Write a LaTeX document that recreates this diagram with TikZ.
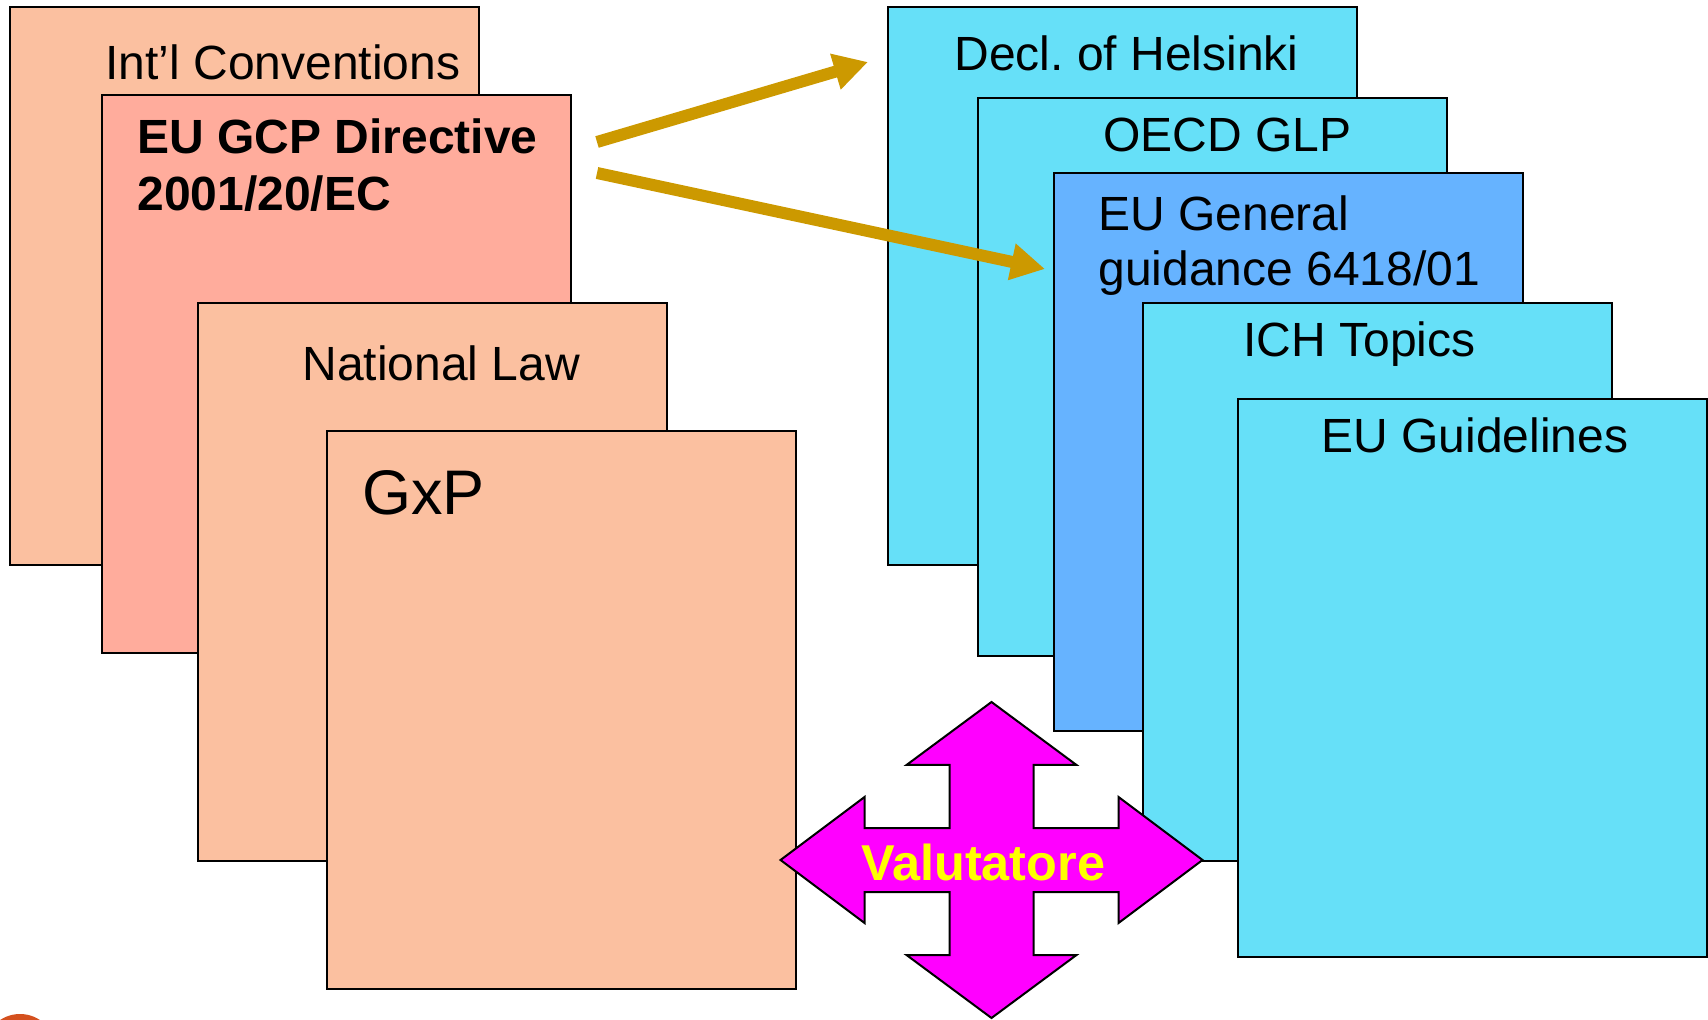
\documentclass[tikz,border=0pt]{standalone}
\usepackage{fontspec}
\setmainfont{Liberation Sans}
\usetikzlibrary{arrows.meta}
\frenchspacing
\definecolor{peach}{HTML}{FBC0A0}
\definecolor{salmonbox}{HTML}{FFAC9C}
\definecolor{cyanbox}{HTML}{66E0F8}
\definecolor{bluebox}{HTML}{66B3FF}
\definecolor{gold}{HTML}{CC9900}
\definecolor{dotorange}{HTML}{D4501E}
\definecolor{crossmag}{HTML}{FF00FF}
\definecolor{textyellow}{HTML}{FFFF00}
\tikzset{
  sheet/.style={draw=black, line width=1pt, rectangle, inner sep=0pt, anchor=north west,
    minimum width=234.5pt, minimum height=279pt},
  lbl/.style={anchor=base west, inner sep=0pt, font=\fontsize{24}{28}\selectfont},
  boldlbl/.style={lbl, font=\fontsize{24}{28}\selectfont\bfseries},
  goldarrow/.style={draw=gold, line width=6pt, -{Triangle[length=17pt,width=17.5pt]}},
}
\begin{document}
\begin{tikzpicture}[x=0.5pt,y=-0.5pt]
\useasboundingbox (0,0) rectangle (1708,1020);
\begin{scope}
\clip (0,0) rectangle (1708,1020);
\fill[dotorange] (20,1050) circle[radius=18pt];
\end{scope}
% left stack
\node[sheet, fill=peach] (b1) at (9,6) {};
\node[lbl] (t1) at (105,80) {Int’l Conventions};
\node[sheet, fill=salmonbox] (b2) at (101,94) {};
\node[boldlbl] (t2a) at (137,154) {EU GCP Directive};
\node[boldlbl] (t2b) at (137,211) {2001/20/EC};
\node[sheet, fill=peach] (b3) at (197,302) {};
\node[lbl] (t3) at (302,381) {National Law};
\node[sheet, fill=peach] (b4) at (326,430) {};
\node[lbl, font=\fontsize{31.5}{36}\selectfont] (t4) at (362,515) {GxP};
% right stack
\node[sheet, fill=cyanbox] (r1) at (887,6) {};
\node[lbl] (u1) at (954,71) {Decl.\ of Helsinki};
\node[sheet, fill=cyanbox] (r2) at (977,97) {};
\node[lbl] (u2) at (1103,152) {OECD GLP};
\node[sheet, fill=bluebox] (r3) at (1053,172) {};
\node[lbl] (u3a) at (1098,231) {EU General};
\node[lbl] (u3b) at (1098,286) {guidance 6418/01};
\node[sheet, fill=cyanbox] (r4) at (1142,302) {};
\node[lbl] (u4) at (1243,357) {ICH Topics};
\node[sheet, fill=cyanbox] (r5) at (1237,398) {};
\node[lbl] (u5) at (1321,453) {EU Guidelines};
% arrows
\coordinate (a1s) at (597,142);
\coordinate (a1e) at (868,62);
\coordinate (a2s) at (597,173);
\coordinate (a2e) at (1045,269);
\draw[goldarrow] (a1s) -- (a1e);
\draw[goldarrow] (a2s) -- (a2e);
% cross
\coordinate (c) at (991.5,860);
\draw[fill=crossmag, draw=black, line width=1pt, line join=miter, shift={(c)}]
  (0,-158) -- (85,-95) -- (42,-95) -- (42,-32) -- (127,-32) -- (127,-63) -- (211,0)
  -- (127,63) -- (127,32) -- (42,32) -- (42,95) -- (85,95) -- (0,158)
  -- (-85,95) -- (-42,95) -- (-42,32) -- (-127,32) -- (-127,63) -- (-211,0)
  -- (-127,-63) -- (-127,-32) -- (-42,-32) -- (-42,-95) -- (-85,-95) -- cycle;
\node[lbl, font=\fontsize{25.2}{30}\selectfont\bfseries, text=textyellow] (v) at (861,880) {Valutatore};
\end{tikzpicture}
\end{document}
